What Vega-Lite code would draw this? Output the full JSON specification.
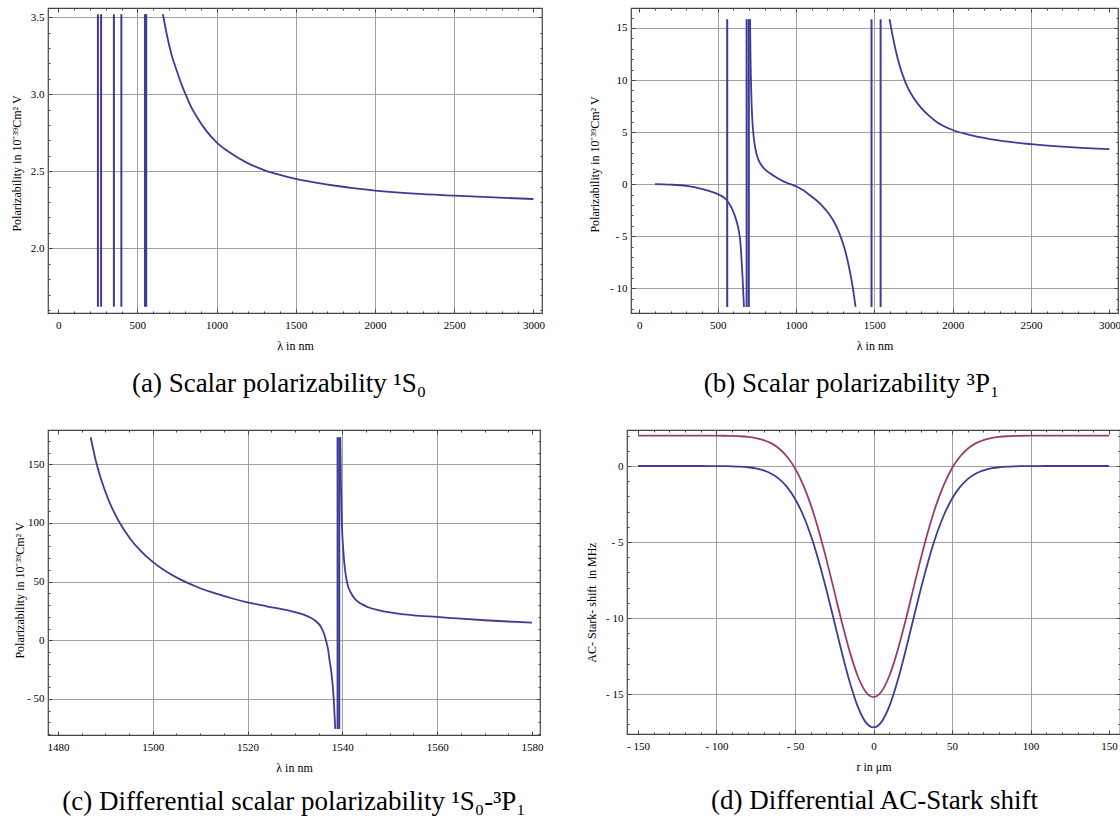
{
"$schema": "https://vega.github.io/schema/vega-lite/v6.json",
"background": "white",
"padding": {"left": 9, "top": 6, "right": 0, "bottom": 0},
"autosize": {"type": "pad"},
"config": {
 "view": {"stroke": "#444444", "strokeWidth": 1.2},
 "axis": {"grid": false, "domain": false, "labelFont": "Liberation Serif", "labelFontSize": 11, "labelColor": "#000000", "titleFont": "Liberation Serif", "titleFontSize": 12, "titleFontWeight": "normal", "titleColor": "#000000", "tickColor": "#444444", "tickWidth": 1, "labelOverlap": false, "labelFlush": false, "labelBound": false, "gridColor": "#a0a0a0", "gridWidth": 1, "gridOpacity": 1},
 "title": {"font": "Liberation Serif", "fontSize": 27, "fontWeight": "normal", "color": "#000000", "offset": 20}
},
"datasets": {
 "a_c": [
  {"s":"c","x":661,"y":3.52},{"s":"c","x":675,"y":3.445},{"s":"c","x":692,"y":3.359},{"s":"c","x":715,"y":3.26},{"s":"c","x":745,"y":3.164},{"s":"c","x":775,"y":3.074},{"s":"c","x":808,"y":2.991},{"s":"c","x":840,"y":2.917},{"s":"c","x":871,"y":2.861},{"s":"c","x":934,"y":2.764},{"s":"c","x":1000,"y":2.688},{"s":"c","x":1081,"y":2.623},{"s":"c","x":1187,"y":2.558},{"s":"c","x":1300,"y":2.508},{"s":"c","x":1400,"y":2.476},{"s":"c","x":1500,"y":2.451},{"s":"c","x":1625,"y":2.427},{"s":"c","x":1750,"y":2.406},{"s":"c","x":1875,"y":2.389},{"s":"c","x":2000,"y":2.375},{"s":"c","x":2250,"y":2.355},{"s":"c","x":2500,"y":2.342},{"s":"c","x":2750,"y":2.33},{"s":"c","x":3000,"y":2.32}
 ],
 "a_v": [
  {"x":251,"y1":1.62,"y2":3.52},{"x":271,"y1":1.62,"y2":3.52},{"x":352,"y1":1.62,"y2":3.52},{"x":399,"y1":1.62,"y2":3.52},{"x":548,"y1":1.62,"y2":3.52},{"x":556,"y1":1.62,"y2":3.52}
 ],
 "b_c": [
  {"s":"L","x":100,"y":0},{"s":"L","x":200,"y":-0.05},{"s":"L","x":300,"y":-0.17},{"s":"L","x":385,"y":-0.41},{"s":"L","x":450,"y":-0.68},{"s":"L","x":513,"y":-1.05},{"s":"L","x":545,"y":-1.35},{"s":"L","x":565,"y":-1.69},{"s":"L","x":590,"y":-2.3},{"s":"L","x":608,"y":-2.97},{"s":"L","x":625,"y":-3.8},{"s":"L","x":636,"y":-4.57},{"s":"L","x":645,"y":-5.6},{"s":"L","x":651,"y":-6.9},{"s":"L","x":657,"y":-8.4},{"s":"L","x":661,"y":-9.6},{"s":"L","x":665,"y":-10.9},{"s":"L","x":668,"y":-11.8},
  {"s":"M","x":707,"y":15.85},{"s":"M","x":708,"y":14.35},{"s":"M","x":710,"y":11.97},{"s":"M","x":712,"y":10.26},{"s":"M","x":716,"y":7.99},{"s":"M","x":720,"y":6.55},{"s":"M","x":725,"y":5.35},{"s":"M","x":735,"y":3.92},{"s":"M","x":747,"y":2.97},{"s":"M","x":760,"y":2.36},{"s":"M","x":779,"y":1.82},{"s":"M","x":800,"y":1.45},{"s":"M","x":832,"y":1.06},{"s":"M","x":870,"y":0.68},{"s":"M","x":917,"y":0.29},{"s":"M","x":960,"y":0.02},{"s":"M","x":1006,"y":-0.25},{"s":"M","x":1050,"y":-0.62},{"s":"M","x":1087,"y":-1.05},{"s":"M","x":1130,"y":-1.55},{"s":"M","x":1172,"y":-2.17},{"s":"M","x":1205,"y":-2.75},{"s":"M","x":1236,"y":-3.45},{"s":"M","x":1265,"y":-4.3},{"s":"M","x":1289,"y":-5.21},{"s":"M","x":1312,"y":-6.3},{"s":"M","x":1331,"y":-7.45},{"s":"M","x":1348,"y":-8.7},{"s":"M","x":1363,"y":-10.0},{"s":"M","x":1372,"y":-10.9},{"s":"M","x":1380,"y":-11.8},
  {"s":"R","x":1597,"y":15.85},{"s":"R","x":1620,"y":14.0},{"s":"R","x":1650,"y":12.0},{"s":"R","x":1700,"y":9.7},{"s":"R","x":1750,"y":8.3},{"s":"R","x":1800,"y":7.3},{"s":"R","x":1850,"y":6.55},{"s":"R","x":1900,"y":5.95},{"s":"R","x":2000,"y":5.2},{"s":"R","x":2100,"y":4.75},{"s":"R","x":2250,"y":4.3},{"s":"R","x":2500,"y":3.84},{"s":"R","x":2750,"y":3.55},{"s":"R","x":3000,"y":3.36}
 ],
 "b_v": [
  {"x":561,"y1":-11.8,"y2":15.85},{"x":685,"y1":-11.8,"y2":15.85},{"x":699,"y1":-11.8,"y2":15.85},{"x":1482,"y1":-11.8,"y2":15.85},{"x":1540,"y1":-11.8,"y2":15.85}
 ],
 "c_c": [
  {"s":"L","x":1486.9,"y":173},{"s":"L","x":1488,"y":152.8},{"s":"L","x":1489,"y":138.5},{"s":"L","x":1490.6,"y":120.3},{"s":"L","x":1492.9,"y":101},{"s":"L","x":1495.2,"y":86.8},{"s":"L","x":1497.5,"y":76},{"s":"L","x":1500,"y":66.8},{"s":"L","x":1502.5,"y":59.5},{"s":"L","x":1505.8,"y":51.9},{"s":"L","x":1509.5,"y":45.2},{"s":"L","x":1513.4,"y":39.7},{"s":"L","x":1517,"y":35.4},{"s":"L","x":1520,"y":32.4},{"s":"L","x":1524,"y":29},{"s":"L","x":1528.6,"y":25.4},{"s":"L","x":1531,"y":23},{"s":"L","x":1533.2,"y":19.5},{"s":"L","x":1534.5,"y":16},{"s":"L","x":1535.4,"y":12},{"s":"L","x":1536.1,"y":6},{"s":"L","x":1536.6,"y":-1},{"s":"L","x":1537.0,"y":-8},{"s":"L","x":1537.3,"y":-17},{"s":"L","x":1537.7,"y":-28},{"s":"L","x":1538.0,"y":-40},{"s":"L","x":1538.25,"y":-55},{"s":"L","x":1538.5,"y":-75.5},
  {"s":"R","x":1539.58,"y":173},{"s":"R","x":1539.7,"y":135},{"s":"R","x":1539.85,"y":105},{"s":"R","x":1540,"y":90},{"s":"R","x":1540.2,"y":77},{"s":"R","x":1540.4,"y":66.5},{"s":"R","x":1540.7,"y":56},{"s":"R","x":1541.1,"y":47.5},{"s":"R","x":1541.8,"y":40.5},{"s":"R","x":1542.6,"y":35.5},{"s":"R","x":1543.8,"y":31.5},{"s":"R","x":1545.3,"y":28.4},{"s":"R","x":1548,"y":25.3},{"s":"R","x":1551.4,"y":22.9},{"s":"R","x":1555,"y":21.3},{"s":"R","x":1560,"y":19.9},{"s":"R","x":1565,"y":18.4},{"s":"R","x":1570,"y":17.1},{"s":"R","x":1575,"y":16},{"s":"R","x":1580,"y":15.1}
 ],
 "c_v": [
  {"x":1539.0,"y1":-75.5,"y2":173},{"x":1539.35,"y1":-75.5,"y2":173}
 ],
 "d_c": [
  {"s":"blue","x":-150,"y":0},{"s":"blue","x":-130,"y":0},{"s":"blue","x":-110,"y":0},{"s":"blue","x":-100,"y":-0.004},{"s":"blue","x":-95,"y":-0.009},{"s":"blue","x":-90,"y":-0.02},{"s":"blue","x":-85,"y":-0.04},{"s":"blue","x":-80,"y":-0.08},{"s":"blue","x":-75,"y":-0.16},{"s":"blue","x":-70,"y":-0.29},{"s":"blue","x":-65,"y":-0.51},{"s":"blue","x":-60,"y":-0.86},{"s":"blue","x":-55,"y":-1.39},{"s":"blue","x":-50,"y":-2.15},{"s":"blue","x":-45,"y":-3.19},{"s":"blue","x":-40,"y":-4.54},{"s":"blue","x":-35,"y":-6.21},{"s":"blue","x":-30,"y":-8.14},{"s":"blue","x":-25,"y":-10.23},{"s":"blue","x":-20,"y":-12.33},{"s":"blue","x":-15,"y":-14.26},{"s":"blue","x":-10,"y":-15.83},{"s":"blue","x":-5,"y":-16.85},{"s":"blue","x":0,"y":-17.2},{"s":"blue","x":5,"y":-16.85},{"s":"blue","x":10,"y":-15.83},{"s":"blue","x":15,"y":-14.26},{"s":"blue","x":20,"y":-12.33},{"s":"blue","x":25,"y":-10.23},{"s":"blue","x":30,"y":-8.14},{"s":"blue","x":35,"y":-6.21},{"s":"blue","x":40,"y":-4.54},{"s":"blue","x":45,"y":-3.19},{"s":"blue","x":50,"y":-2.15},{"s":"blue","x":55,"y":-1.39},{"s":"blue","x":60,"y":-0.86},{"s":"blue","x":65,"y":-0.51},{"s":"blue","x":70,"y":-0.29},{"s":"blue","x":75,"y":-0.16},{"s":"blue","x":80,"y":-0.08},{"s":"blue","x":85,"y":-0.04},{"s":"blue","x":90,"y":-0.02},{"s":"blue","x":95,"y":-0.009},{"s":"blue","x":100,"y":-0.004},{"s":"blue","x":110,"y":0},{"s":"blue","x":130,"y":0},{"s":"blue","x":150,"y":0},
  {"s":"red","x":-150,"y":2},{"s":"red","x":-130,"y":2},{"s":"red","x":-110,"y":2},{"s":"red","x":-100,"y":1.996},{"s":"red","x":-95,"y":1.991},{"s":"red","x":-90,"y":1.98},{"s":"red","x":-85,"y":1.96},{"s":"red","x":-80,"y":1.92},{"s":"red","x":-75,"y":1.84},{"s":"red","x":-70,"y":1.71},{"s":"red","x":-65,"y":1.49},{"s":"red","x":-60,"y":1.14},{"s":"red","x":-55,"y":0.61},{"s":"red","x":-50,"y":-0.15},{"s":"red","x":-45,"y":-1.19},{"s":"red","x":-40,"y":-2.54},{"s":"red","x":-35,"y":-4.21},{"s":"red","x":-30,"y":-6.14},{"s":"red","x":-25,"y":-8.23},{"s":"red","x":-20,"y":-10.33},{"s":"red","x":-15,"y":-12.26},{"s":"red","x":-10,"y":-13.83},{"s":"red","x":-5,"y":-14.85},{"s":"red","x":0,"y":-15.2},{"s":"red","x":5,"y":-14.85},{"s":"red","x":10,"y":-13.83},{"s":"red","x":15,"y":-12.26},{"s":"red","x":20,"y":-10.33},{"s":"red","x":25,"y":-8.23},{"s":"red","x":30,"y":-6.14},{"s":"red","x":35,"y":-4.21},{"s":"red","x":40,"y":-2.54},{"s":"red","x":45,"y":-1.19},{"s":"red","x":50,"y":-0.15},{"s":"red","x":55,"y":0.61},{"s":"red","x":60,"y":1.14},{"s":"red","x":65,"y":1.49},{"s":"red","x":70,"y":1.71},{"s":"red","x":75,"y":1.84},{"s":"red","x":80,"y":1.92},{"s":"red","x":85,"y":1.96},{"s":"red","x":90,"y":1.98},{"s":"red","x":95,"y":1.991},{"s":"red","x":100,"y":1.996},{"s":"red","x":110,"y":2},{"s":"red","x":130,"y":2},{"s":"red","x":150,"y":2}
 ]
},
"spacing": 30,
"vconcat": [
 {"bounds": "flush", "spacing": 89, "hconcat": [
  {
   "width": 494, "height": 305,
   "title": {"text": "(a) Scalar polarizability ¹S₀", "orient": "bottom", "frame": "group", "anchor": "middle", "dx": -16},
   "resolve": {"axis": {"x": "independent", "y": "independent"}},
   "layer": [
    {"data": {"name": "a_c"}, "mark": {"type": "point", "opacity": 0},
     "encoding": {
      "x": {"field": "x", "type": "quantitative", "scale": {"domain": [-64, 3054], "nice": false, "zero": false}, "axis": {"orient": "bottom", "values": [500,1000,1500,2000,2500], "grid": true, "ticks": false, "labels": false, "title": null, "zindex": 0}},
      "y": {"field": "y", "type": "quantitative", "scale": {"domain": [1.58, 3.56], "nice": false, "zero": false}, "axis": {"orient": "left", "values": [2,2.5,3,3.5], "grid": true, "ticks": false, "labels": false, "title": null, "zindex": 0}}}},
    {"data": {"name": "a_c"}, "mark": {"type": "line", "interpolate": "monotone", "color": "#3d3d99", "strokeWidth": 1.8, "clip": true},
     "encoding": {
      "x": {"field": "x", "type": "quantitative", "scale": {"domain": [-64, 3054], "nice": false, "zero": false}, "axis": {"orient": "bottom", "values": [0,500,1000,1500,2000,2500,3000], "tickSize": -4, "labelPadding": 10, "labelExpr": "format(datum.value, 'd')", "title": "λ in nm", "titlePadding": 10, "zindex": 1}},
      "y": {"field": "y", "type": "quantitative", "scale": {"domain": [1.58, 3.56], "nice": false, "zero": false}, "axis": {"orient": "left", "values": [2,2.5,3,3.5], "tickSize": -4, "labelPadding": 8, "labelExpr": "format(datum.value, '.1f')", "title": "Polarizability in 10⁻³⁹Cm² V", "titlePadding": 7, "titleY": 155, "zindex": 1}}}},
    {"data": {"name": "a_v"}, "mark": {"type": "rule", "color": "#3d3d99", "strokeWidth": 2},
     "encoding": {
      "x": {"field": "x", "type": "quantitative", "scale": {"domain": [-64, 3054], "nice": false, "zero": false}, "axis": null},
      "y": {"field": "y1", "type": "quantitative", "scale": {"domain": [1.58, 3.56], "nice": false, "zero": false}, "axis": null},
      "y2": {"field": "y2"}}},
    {"data": {"name": "a_c"}, "mark": {"type": "point", "opacity": 0},
     "encoding": {
      "x": {"field": "x", "type": "quantitative", "scale": {"domain": [-64, 3054], "nice": false, "zero": false}, "axis": {"orient": "bottom", "values": [100,200,300,400,600,700,800,900,1100,1200,1300,1400,1600,1700,1800,1900,2100,2200,2300,2400,2600,2700,2800,2900], "tickSize": -2, "labels": false, "title": null, "zindex": 1}},
      "y": {"field": "y", "type": "quantitative", "scale": {"domain": [1.58, 3.56], "nice": false, "zero": false}, "axis": {"orient": "left", "values": [1.6,1.7,1.8,1.9,2.1,2.2,2.3,2.4,2.6,2.7,2.8,2.9,3.1,3.2,3.3,3.4], "tickSize": -2, "labels": false, "title": null, "zindex": 1}}}},
    {"data": {"name": "a_c"}, "mark": {"type": "point", "opacity": 0},
     "encoding": {
      "x": {"field": "x", "type": "quantitative", "scale": {"domain": [-64, 3054], "nice": false, "zero": false}, "axis": {"orient": "top", "values": [0,500,1000,1500,2000,2500,3000], "tickSize": -4, "labels": false, "title": null, "zindex": 1}},
      "y": {"field": "y", "type": "quantitative", "scale": {"domain": [1.58, 3.56], "nice": false, "zero": false}, "axis": {"orient": "right", "values": [2,2.5,3,3.5], "tickSize": -4, "labels": false, "title": null, "zindex": 1}}}},
    {"data": {"name": "a_c"}, "mark": {"type": "point", "opacity": 0},
     "encoding": {
      "x": {"field": "x", "type": "quantitative", "scale": {"domain": [-64, 3054], "nice": false, "zero": false}, "axis": {"orient": "top", "values": [100,200,300,400,600,700,800,900,1100,1200,1300,1400,1600,1700,1800,1900,2100,2200,2300,2400,2600,2700,2800,2900], "tickSize": -2, "labels": false, "title": null, "zindex": 1}},
      "y": {"field": "y", "type": "quantitative", "scale": {"domain": [1.58, 3.56], "nice": false, "zero": false}, "axis": {"orient": "right", "values": [1.6,1.7,1.8,1.9,2.1,2.2,2.3,2.4,2.6,2.7,2.8,2.9,3.1,3.2,3.3,3.4], "tickSize": -2, "labels": false, "title": null, "zindex": 1}}}}
   ]
  },
  {
   "width": 487, "height": 305,
   "title": {"text": "(b) Scalar polarizability ³P₁", "orient": "bottom", "frame": "group", "anchor": "middle", "dx": -23},
   "resolve": {"axis": {"x": "independent", "y": "independent"}},
   "layer": [
    {"data": {"name": "b_c"}, "mark": {"type": "point", "opacity": 0},
     "encoding": {
      "x": {"field": "x", "type": "quantitative", "scale": {"domain": [-53, 3055], "nice": false, "zero": false}, "axis": {"orient": "bottom", "values": [500,1000,1500,2000,2500], "grid": true, "ticks": false, "labels": false, "title": null, "zindex": 0}},
      "y": {"field": "y", "type": "quantitative", "scale": {"domain": [-12.38, 16.92], "nice": false, "zero": false}, "axis": {"orient": "left", "values": [-10,-5,0,5,10,15], "grid": true, "ticks": false, "labels": false, "title": null, "zindex": 0}}}},
    {"data": {"name": "b_c"}, "mark": {"type": "line", "interpolate": "monotone", "color": "#3d3d99", "strokeWidth": 1.8, "clip": true},
     "encoding": {
      "detail": {"field": "s"},
      "x": {"field": "x", "type": "quantitative", "scale": {"domain": [-53, 3055], "nice": false, "zero": false}, "axis": {"orient": "bottom", "values": [0,500,1000,1500,2000,2500,3000], "tickSize": -4, "labelPadding": 10, "labelExpr": "format(datum.value, 'd')", "title": "λ in nm", "titlePadding": 10, "zindex": 1}},
      "y": {"field": "y", "type": "quantitative", "scale": {"domain": [-12.38, 16.92], "nice": false, "zero": false}, "axis": {"orient": "left", "values": [-10,-5,0,5,10,15], "tickSize": -4, "labelPadding": 8, "labelExpr": "datum.value < 0 ? '- ' + format(-datum.value, 'd') : format(datum.value, 'd')", "title": "Polarizability in 10⁻³⁹Cm² V", "titlePadding": 8, "titleY": 156, "zindex": 1}}}},
    {"data": {"name": "b_v"}, "mark": {"type": "rule", "color": "#3d3d99", "strokeWidth": 2},
     "encoding": {
      "x": {"field": "x", "type": "quantitative", "scale": {"domain": [-53, 3055], "nice": false, "zero": false}, "axis": null},
      "y": {"field": "y1", "type": "quantitative", "scale": {"domain": [-12.38, 16.92], "nice": false, "zero": false}, "axis": null},
      "y2": {"field": "y2"}}},
    {"data": {"name": "b_c"}, "mark": {"type": "point", "opacity": 0},
     "encoding": {
      "x": {"field": "x", "type": "quantitative", "scale": {"domain": [-53, 3055], "nice": false, "zero": false}, "axis": {"orient": "bottom", "values": [100,200,300,400,600,700,800,900,1100,1200,1300,1400,1600,1700,1800,1900,2100,2200,2300,2400,2600,2700,2800,2900], "tickSize": -2, "labels": false, "title": null, "zindex": 1}},
      "y": {"field": "y", "type": "quantitative", "scale": {"domain": [-12.38, 16.92], "nice": false, "zero": false}, "axis": {"orient": "left", "values": [-12,-11,-9,-8,-7,-6,-4,-3,-2,-1,1,2,3,4,6,7,8,9,11,12,13,14,16], "tickSize": -2, "labels": false, "title": null, "zindex": 1}}}},
    {"data": {"name": "b_c"}, "mark": {"type": "point", "opacity": 0},
     "encoding": {
      "x": {"field": "x", "type": "quantitative", "scale": {"domain": [-53, 3055], "nice": false, "zero": false}, "axis": {"orient": "top", "values": [0,500,1000,1500,2000,2500,3000], "tickSize": -4, "labels": false, "title": null, "zindex": 1}},
      "y": {"field": "y", "type": "quantitative", "scale": {"domain": [-12.38, 16.92], "nice": false, "zero": false}, "axis": {"orient": "right", "values": [-10,-5,0,5,10,15], "tickSize": -4, "labels": false, "title": null, "zindex": 1}}}},
    {"data": {"name": "b_c"}, "mark": {"type": "point", "opacity": 0},
     "encoding": {
      "x": {"field": "x", "type": "quantitative", "scale": {"domain": [-53, 3055], "nice": false, "zero": false}, "axis": {"orient": "top", "values": [100,200,300,400,600,700,800,900,1100,1200,1300,1400,1600,1700,1800,1900,2100,2200,2300,2400,2600,2700,2800,2900], "tickSize": -2, "labels": false, "title": null, "zindex": 1}},
      "y": {"field": "y", "type": "quantitative", "scale": {"domain": [-12.38, 16.92], "nice": false, "zero": false}, "axis": {"orient": "right", "values": [-12,-11,-9,-8,-7,-6,-4,-3,-2,-1,1,2,3,4,6,7,8,9,11,12,13,14,16], "tickSize": -2, "labels": false, "title": null, "zindex": 1}}}}
   ]
  }
 ]},
 {"bounds": "flush", "spacing": 87, "hconcat": [
  {
   "width": 492, "height": 305,
   "title": {"text": "(c) Differential scalar polarizability ¹S₀-³P₁", "orient": "bottom", "frame": "group", "anchor": "middle", "dx": 0, "offset": 16},
   "resolve": {"axis": {"x": "independent", "y": "independent"}},
   "layer": [
    {"data": {"name": "c_c"}, "mark": {"type": "point", "opacity": 0},
     "encoding": {
      "x": {"field": "x", "type": "quantitative", "scale": {"domain": [1477.9, 1581.7], "nice": false, "zero": false}, "axis": {"orient": "bottom", "values": [1500,1520,1540,1560], "grid": true, "ticks": false, "labels": false, "title": null, "zindex": 0}},
      "y": {"field": "y", "type": "quantitative", "scale": {"domain": [-80.7, 179.2], "nice": false, "zero": false}, "axis": {"orient": "left", "values": [-50,0,50,100,150], "grid": true, "ticks": false, "labels": false, "title": null, "zindex": 0}}}},
    {"data": {"name": "c_c"}, "mark": {"type": "line", "interpolate": "monotone", "color": "#3d3d99", "strokeWidth": 1.8, "clip": true},
     "encoding": {
      "detail": {"field": "s"},
      "x": {"field": "x", "type": "quantitative", "scale": {"domain": [1477.9, 1581.7], "nice": false, "zero": false}, "axis": {"orient": "bottom", "values": [1480,1500,1520,1540,1560,1580], "tickSize": -4, "labelPadding": 10, "labelExpr": "format(datum.value, 'd')", "title": "λ in nm", "titlePadding": 10, "zindex": 1}},
      "y": {"field": "y", "type": "quantitative", "scale": {"domain": [-80.7, 179.2], "nice": false, "zero": false}, "axis": {"orient": "left", "values": [-50,0,50,100,150], "tickSize": -4, "labelPadding": 8, "labelExpr": "datum.value < 0 ? '- ' + format(-datum.value, 'd') : format(datum.value, 'd')", "title": "Polarizability in 10⁻³⁹Cm² V", "titlePadding": 0, "titleY": 160, "zindex": 1}}}},
    {"data": {"name": "c_v"}, "mark": {"type": "rule", "color": "#3d3d99", "strokeWidth": 2},
     "encoding": {
      "x": {"field": "x", "type": "quantitative", "scale": {"domain": [1477.9, 1581.7], "nice": false, "zero": false}, "axis": null},
      "y": {"field": "y1", "type": "quantitative", "scale": {"domain": [-80.7, 179.2], "nice": false, "zero": false}, "axis": null},
      "y2": {"field": "y2"}}},
    {"data": {"name": "c_c"}, "mark": {"type": "point", "opacity": 0},
     "encoding": {
      "x": {"field": "x", "type": "quantitative", "scale": {"domain": [1477.9, 1581.7], "nice": false, "zero": false}, "axis": {"orient": "bottom", "values": [1485,1490,1495,1505,1510,1515,1525,1530,1535,1545,1550,1555,1565,1570,1575], "tickSize": -2, "labels": false, "title": null, "zindex": 1}},
      "y": {"field": "y", "type": "quantitative", "scale": {"domain": [-80.7, 179.2], "nice": false, "zero": false}, "axis": {"orient": "left", "values": [-80,-70,-60,-40,-30,-20,-10,10,20,30,40,60,70,80,90,110,120,130,140,160,170], "tickSize": -2, "labels": false, "title": null, "zindex": 1}}}},
    {"data": {"name": "c_c"}, "mark": {"type": "point", "opacity": 0},
     "encoding": {
      "x": {"field": "x", "type": "quantitative", "scale": {"domain": [1477.9, 1581.7], "nice": false, "zero": false}, "axis": {"orient": "top", "values": [1480,1500,1520,1540,1560,1580], "tickSize": -4, "labels": false, "title": null, "zindex": 1}},
      "y": {"field": "y", "type": "quantitative", "scale": {"domain": [-80.7, 179.2], "nice": false, "zero": false}, "axis": {"orient": "right", "values": [-50,0,50,100,150], "tickSize": -4, "labels": false, "title": null, "zindex": 1}}}},
    {"data": {"name": "c_c"}, "mark": {"type": "point", "opacity": 0},
     "encoding": {
      "x": {"field": "x", "type": "quantitative", "scale": {"domain": [1477.9, 1581.7], "nice": false, "zero": false}, "axis": {"orient": "top", "values": [1485,1490,1495,1505,1510,1515,1525,1530,1535,1545,1550,1555,1565,1570,1575], "tickSize": -2, "labels": false, "title": null, "zindex": 1}},
      "y": {"field": "y", "type": "quantitative", "scale": {"domain": [-80.7, 179.2], "nice": false, "zero": false}, "axis": {"orient": "right", "values": [-80,-70,-60,-40,-30,-20,-10,10,20,30,40,60,70,80,90,110,120,130,140,160,170], "tickSize": -2, "labels": false, "title": null, "zindex": 1}}}}
   ]
  },
  {
   "width": 493, "height": 304,
   "title": {"text": "(d) Differential AC-Stark shift", "orient": "bottom", "frame": "group", "anchor": "middle", "dx": 1, "offset": 16},
   "resolve": {"axis": {"x": "independent", "y": "independent"}},
   "layer": [
    {"data": {"name": "d_c"}, "mark": {"type": "point", "opacity": 0},
     "encoding": {
      "x": {"field": "x", "type": "quantitative", "scale": {"domain": [-157, 157], "nice": false, "zero": false}, "axis": {"orient": "bottom", "values": [-100,-50,0,50,100], "grid": true, "ticks": false, "labels": false, "title": null, "zindex": 0}},
      "y": {"field": "y", "type": "quantitative", "scale": {"domain": [-17.63, 2.37], "nice": false, "zero": false}, "axis": {"orient": "left", "values": [-15,-10,-5,0], "grid": true, "ticks": false, "labels": false, "title": null, "zindex": 0}}}},
    {"data": {"name": "d_c"}, "mark": {"type": "line", "interpolate": "monotone", "strokeWidth": 1.8, "clip": true},
     "encoding": {
      "color": {"field": "s", "type": "nominal", "scale": {"domain": ["blue", "red"], "range": ["#3d3d99", "#993d71"]}, "legend": null},
      "x": {"field": "x", "type": "quantitative", "scale": {"domain": [-157, 157], "nice": false, "zero": false}, "axis": {"orient": "bottom", "values": [-150,-100,-50,0,50,100,150], "tickSize": -4, "labelPadding": 10, "labelExpr": "datum.value < 0 ? '- ' + format(-datum.value, 'd') : format(datum.value, 'd')", "title": "r in μm", "titlePadding": 10, "zindex": 1}},
      "y": {"field": "y", "type": "quantitative", "scale": {"domain": [-17.63, 2.37], "nice": false, "zero": false}, "axis": {"orient": "left", "values": [-15,-10,-5,0], "tickSize": -4, "labelPadding": 8, "labelExpr": "datum.value < 0 ? '- ' + format(-datum.value, 'd') : format(datum.value, 'd')", "title": "AC- Stark- shift \u00a0in MHz", "titlePadding": 7, "titleY": 172, "zindex": 1}}}},
    {"data": {"name": "d_c"}, "mark": {"type": "point", "opacity": 0},
     "encoding": {
      "x": {"field": "x", "type": "quantitative", "scale": {"domain": [-157, 157], "nice": false, "zero": false}, "axis": {"orient": "bottom", "values": [-140,-130,-120,-110,-90,-80,-70,-60,-40,-30,-20,-10,10,20,30,40,60,70,80,90,110,120,130,140], "tickSize": -2, "labels": false, "title": null, "zindex": 1}},
      "y": {"field": "y", "type": "quantitative", "scale": {"domain": [-17.63, 2.37], "nice": false, "zero": false}, "axis": {"orient": "left", "values": [-17,-16,-14,-13,-12,-11,-9,-8,-7,-6,-4,-3,-2,-1,1,2], "tickSize": -2, "labels": false, "title": null, "zindex": 1}}}},
    {"data": {"name": "d_c"}, "mark": {"type": "point", "opacity": 0},
     "encoding": {
      "x": {"field": "x", "type": "quantitative", "scale": {"domain": [-157, 157], "nice": false, "zero": false}, "axis": {"orient": "top", "values": [-150,-100,-50,0,50,100,150], "tickSize": -4, "labels": false, "title": null, "zindex": 1}},
      "y": {"field": "y", "type": "quantitative", "scale": {"domain": [-17.63, 2.37], "nice": false, "zero": false}, "axis": {"orient": "right", "values": [-15,-10,-5,0], "tickSize": -4, "labels": false, "title": null, "zindex": 1}}}},
    {"data": {"name": "d_c"}, "mark": {"type": "point", "opacity": 0},
     "encoding": {
      "x": {"field": "x", "type": "quantitative", "scale": {"domain": [-157, 157], "nice": false, "zero": false}, "axis": {"orient": "top", "values": [-140,-130,-120,-110,-90,-80,-70,-60,-40,-30,-20,-10,10,20,30,40,60,70,80,90,110,120,130,140], "tickSize": -2, "labels": false, "title": null, "zindex": 1}},
      "y": {"field": "y", "type": "quantitative", "scale": {"domain": [-17.63, 2.37], "nice": false, "zero": false}, "axis": {"orient": "right", "values": [-17,-16,-14,-13,-12,-11,-9,-8,-7,-6,-4,-3,-2,-1,1,2], "tickSize": -2, "labels": false, "title": null, "zindex": 1}}}}
   ]
  }
 ]}
]
}
